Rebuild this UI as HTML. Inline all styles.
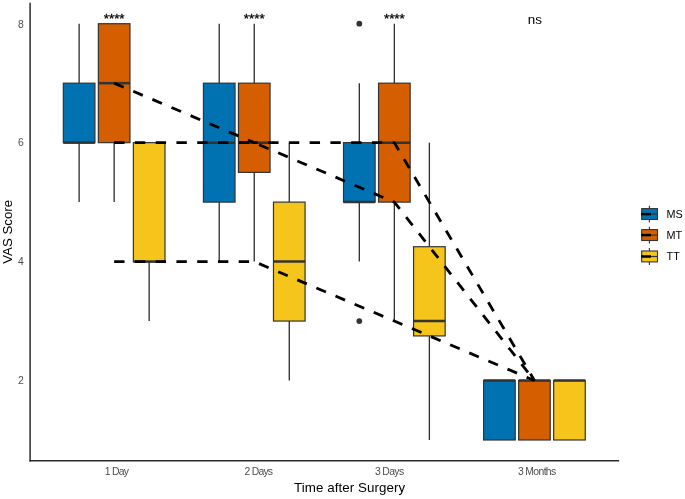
<!DOCTYPE html>
<html><head><meta charset="utf-8"><title>VAS Score</title>
<style>html,body{margin:0;padding:0;background:#fff;}body{width:685px;height:499px;overflow:hidden;}</style>
</head><body>
<svg width="685" height="499" viewBox="0 0 685 499" style="display:block">
<rect width="685" height="499" fill="#ffffff"/>
<line x1="79.13" x2="79.13" y1="23.71" y2="83.18" stroke="#333333" stroke-width="1.35"/>
<line x1="79.13" x2="79.13" y1="142.65" y2="202.12" stroke="#333333" stroke-width="1.35"/>
<rect x="63.33" y="83.18" width="31.60" height="59.47" fill="#0072B2" stroke="#333333" stroke-width="1.2"/>
<line x1="63.33" x2="94.93" y1="142.65" y2="142.65" stroke="#333333" stroke-width="2.5"/>
<line x1="114.16" x2="114.16" y1="142.65" y2="202.12" stroke="#333333" stroke-width="1.35"/>
<rect x="98.36" y="23.71" width="31.60" height="118.94" fill="#D55E00" stroke="#333333" stroke-width="1.2"/>
<line x1="98.36" x2="129.96" y1="83.18" y2="83.18" stroke="#333333" stroke-width="2.5"/>
<line x1="149.18" x2="149.18" y1="261.59" y2="321.06" stroke="#333333" stroke-width="1.35"/>
<rect x="133.38" y="142.65" width="31.60" height="118.94" fill="#F5C51B" stroke="#333333" stroke-width="1.2"/>
<line x1="133.38" x2="164.98" y1="261.59" y2="261.59" stroke="#333333" stroke-width="2.5"/>
<line x1="219.23" x2="219.23" y1="23.71" y2="83.18" stroke="#333333" stroke-width="1.35"/>
<line x1="219.23" x2="219.23" y1="202.12" y2="261.59" stroke="#333333" stroke-width="1.35"/>
<rect x="203.43" y="83.18" width="31.60" height="118.94" fill="#0072B2" stroke="#333333" stroke-width="1.2"/>
<line x1="203.43" x2="235.03" y1="142.65" y2="142.65" stroke="#333333" stroke-width="2.5"/>
<line x1="254.25" x2="254.25" y1="23.71" y2="83.18" stroke="#333333" stroke-width="1.35"/>
<line x1="254.25" x2="254.25" y1="172.38" y2="261.59" stroke="#333333" stroke-width="1.35"/>
<rect x="238.45" y="83.18" width="31.60" height="89.20" fill="#D55E00" stroke="#333333" stroke-width="1.2"/>
<line x1="238.45" x2="270.05" y1="142.65" y2="142.65" stroke="#333333" stroke-width="2.5"/>
<line x1="289.28" x2="289.28" y1="142.65" y2="202.12" stroke="#333333" stroke-width="1.35"/>
<line x1="289.28" x2="289.28" y1="321.06" y2="380.53" stroke="#333333" stroke-width="1.35"/>
<rect x="273.48" y="202.12" width="31.60" height="118.94" fill="#F5C51B" stroke="#333333" stroke-width="1.2"/>
<line x1="273.48" x2="305.08" y1="261.59" y2="261.59" stroke="#333333" stroke-width="2.5"/>
<line x1="359.32" x2="359.32" y1="83.18" y2="142.65" stroke="#333333" stroke-width="1.35"/>
<line x1="359.32" x2="359.32" y1="202.12" y2="261.59" stroke="#333333" stroke-width="1.35"/>
<rect x="343.52" y="142.65" width="31.60" height="59.47" fill="#0072B2" stroke="#333333" stroke-width="1.2"/>
<line x1="343.52" x2="375.12" y1="202.12" y2="202.12" stroke="#333333" stroke-width="2.5"/>
<circle cx="359.32" cy="23.71" r="2.9" fill="#333333"/>
<circle cx="359.32" cy="321.06" r="2.9" fill="#333333"/>
<line x1="394.35" x2="394.35" y1="23.71" y2="83.18" stroke="#333333" stroke-width="1.35"/>
<line x1="394.35" x2="394.35" y1="202.12" y2="321.06" stroke="#333333" stroke-width="1.35"/>
<rect x="378.55" y="83.18" width="31.60" height="118.94" fill="#D55E00" stroke="#333333" stroke-width="1.2"/>
<line x1="378.55" x2="410.15" y1="142.65" y2="142.65" stroke="#333333" stroke-width="2.5"/>
<line x1="429.37" x2="429.37" y1="142.65" y2="246.72" stroke="#333333" stroke-width="1.35"/>
<line x1="429.37" x2="429.37" y1="335.93" y2="440.00" stroke="#333333" stroke-width="1.35"/>
<rect x="413.57" y="246.72" width="31.60" height="89.21" fill="#F5C51B" stroke="#333333" stroke-width="1.2"/>
<line x1="413.57" x2="445.17" y1="321.06" y2="321.06" stroke="#333333" stroke-width="2.5"/>
<rect x="483.62" y="380.53" width="31.60" height="59.47" fill="#0072B2" stroke="#333333" stroke-width="1.2"/>
<line x1="483.62" x2="515.22" y1="380.53" y2="380.53" stroke="#333333" stroke-width="2.5"/>
<rect x="518.64" y="380.53" width="31.60" height="59.47" fill="#D55E00" stroke="#333333" stroke-width="1.2"/>
<line x1="518.64" x2="550.24" y1="380.53" y2="380.53" stroke="#333333" stroke-width="2.5"/>
<rect x="553.67" y="380.53" width="31.60" height="59.47" fill="#F5C51B" stroke="#333333" stroke-width="1.2"/>
<line x1="553.67" x2="585.27" y1="380.53" y2="380.53" stroke="#333333" stroke-width="2.5"/>
<polyline points="114.16,83.18 254.25,142.65 394.35,142.65 534.44,380.53" fill="none" stroke="#000" stroke-width="2.8" stroke-dasharray="10.38 10.38" stroke-linejoin="round"/>
<polyline points="114.16,142.65 254.25,142.65 394.35,202.12 534.44,380.53" fill="none" stroke="#000" stroke-width="2.8" stroke-dasharray="10.38 10.38" stroke-linejoin="round"/>
<polyline points="114.16,261.59 254.25,261.59 394.35,321.06 534.44,380.53" fill="none" stroke="#000" stroke-width="2.8" stroke-dasharray="10.38 10.38" stroke-linejoin="round"/>
<line x1="30.10" x2="30.10" y1="2.8" y2="461.5" stroke="#2b2b2b" stroke-width="1.5"/>
<line x1="29.45" x2="619.20" y1="460.75" y2="460.75" stroke="#2b2b2b" stroke-width="1.5"/>
<text x="23.8" y="384.33" font-family="Liberation Sans, Arial, Helvetica, sans-serif" font-size="10.4" fill="#4d4d4d" text-anchor="end">2</text>
<text x="23.8" y="265.39" font-family="Liberation Sans, Arial, Helvetica, sans-serif" font-size="10.4" fill="#4d4d4d" text-anchor="end">4</text>
<text x="23.8" y="146.45" font-family="Liberation Sans, Arial, Helvetica, sans-serif" font-size="10.4" fill="#4d4d4d" text-anchor="end">6</text>
<text x="23.8" y="27.51" font-family="Liberation Sans, Arial, Helvetica, sans-serif" font-size="10.4" fill="#4d4d4d" text-anchor="end">8</text>
<text x="104.8" y="474.7" font-family="Liberation Sans, Arial, Helvetica, sans-serif" font-size="10.4" fill="#4d4d4d" textLength="24.2" lengthAdjust="spacing">1 Day</text>
<text x="244.6" y="474.7" font-family="Liberation Sans, Arial, Helvetica, sans-serif" font-size="10.4" fill="#4d4d4d" textLength="28.4" lengthAdjust="spacing">2 Days</text>
<text x="375.0" y="474.7" font-family="Liberation Sans, Arial, Helvetica, sans-serif" font-size="10.4" fill="#4d4d4d" textLength="29.1" lengthAdjust="spacing">3 Days</text>
<text x="518.0" y="474.7" font-family="Liberation Sans, Arial, Helvetica, sans-serif" font-size="10.4" fill="#4d4d4d" textLength="38.2" lengthAdjust="spacing">3 Months</text>
<text x="294.0" y="492.1" font-family="Liberation Sans, Arial, Helvetica, sans-serif" font-size="13.35" fill="#000" textLength="111.2" lengthAdjust="spacing">Time after Surgery</text>
<text transform="translate(12.4,263.8) rotate(-90)" font-family="Liberation Sans, Arial, Helvetica, sans-serif" font-size="13.35" fill="#000" textLength="64" lengthAdjust="spacing">VAS Score</text>
<text x="114.16" y="22.8" font-family="Liberation Sans, Arial, Helvetica, sans-serif" font-size="13.35" fill="#000" stroke="#000" stroke-width="0.3" text-anchor="middle">****</text>
<text x="254.25" y="22.8" font-family="Liberation Sans, Arial, Helvetica, sans-serif" font-size="13.35" fill="#000" stroke="#000" stroke-width="0.3" text-anchor="middle">****</text>
<text x="394.35" y="22.8" font-family="Liberation Sans, Arial, Helvetica, sans-serif" font-size="13.35" fill="#000" stroke="#000" stroke-width="0.3" text-anchor="middle">****</text>
<text x="534.84" y="23.5" font-family="Liberation Sans, Arial, Helvetica, sans-serif" font-size="13.4" fill="#000" text-anchor="middle">ns</text>
<line x1="649.4" x2="649.4" y1="205.70" y2="222.50" stroke="#333333" stroke-width="1.1"/>
<rect x="641.7" y="208.60" width="15.8" height="10.9" fill="#0072B2" stroke="#333333" stroke-width="1.1"/>
<line x1="641.2" x2="658" y1="214.10" y2="214.10" stroke="#333333" stroke-width="1.2"/>
<line x1="641.2" x2="651" y1="214.10" y2="214.10" stroke="#000" stroke-width="2.5"/>
<text x="666.6" y="217.85" font-family="Liberation Sans, Arial, Helvetica, sans-serif" font-size="10.8" fill="#000">MS</text>
<line x1="649.4" x2="649.4" y1="226.70" y2="243.50" stroke="#333333" stroke-width="1.1"/>
<rect x="641.7" y="229.60" width="15.8" height="10.9" fill="#D55E00" stroke="#333333" stroke-width="1.1"/>
<line x1="641.2" x2="658" y1="235.10" y2="235.10" stroke="#333333" stroke-width="1.2"/>
<line x1="641.2" x2="651" y1="235.10" y2="235.10" stroke="#000" stroke-width="2.5"/>
<text x="666.6" y="238.85" font-family="Liberation Sans, Arial, Helvetica, sans-serif" font-size="10.8" fill="#000">MT</text>
<line x1="649.4" x2="649.4" y1="248.10" y2="264.90" stroke="#333333" stroke-width="1.1"/>
<rect x="641.7" y="251.00" width="15.8" height="10.9" fill="#F5C51B" stroke="#333333" stroke-width="1.1"/>
<line x1="641.2" x2="658" y1="256.50" y2="256.50" stroke="#333333" stroke-width="1.2"/>
<line x1="641.2" x2="651" y1="256.50" y2="256.50" stroke="#000" stroke-width="2.5"/>
<text x="666.6" y="260.25" font-family="Liberation Sans, Arial, Helvetica, sans-serif" font-size="10.8" fill="#000">TT</text>
</svg>
</body></html>
